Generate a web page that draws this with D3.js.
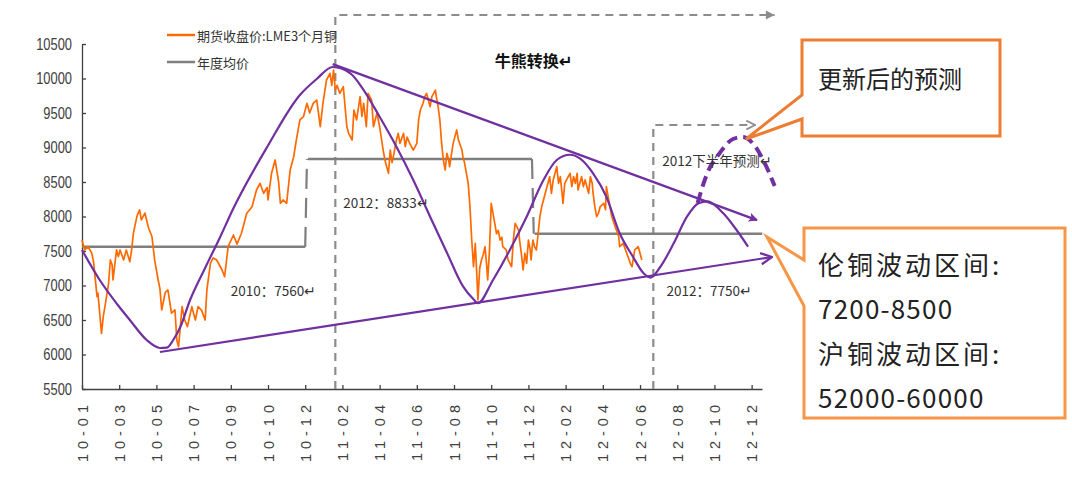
<!DOCTYPE html>
<html><head><meta charset="utf-8">
<script src="https://cdn.jsdelivr.net/npm/d3@7"></script>
<style>
body{margin:0;background:#fff;}
svg{display:block;}
</style></head><body>
<svg id="c" width="1072" height="496"></svg>
<script>
// ---------- data ----------
const tickLabels = ["10-01","10-03","10-05","10-07","10-09","10-10","10-12","11-02","11-04","11-06","11-08","11-10","11-12","12-02","12-04","12-06","12-08","12-10","12-12"];
const yTicks = [5500,6000,6500,7000,7500,8000,8500,9000,9500,10000,10500];
const seriesNames = ["期货收盘价:LME3个月铜","年度均价"];
// LME 3-month copper close: [trading-day index, price]
const priceSeries = [[0,7659],[3,7515],[7,7562],[11,7470],[13,7345],[17,6838],[18,6890],[20,6600],[22,6307],[24,6548],[26,6700],[30,7032],[32,7370],[34,7300],[35,7080],[37,7300],[39,7515],[41,7420],[43,7515],[47,7370],[50,7515],[54,7345],[56,7515],[58,7757],[62,8001],[65,8097],[67,7950],[71,8050],[75,7840],[79,7707],[82,7370],[86,7080],[88,6950],[90,6645],[94,6900],[97,6935],[101,6600],[105,6645],[107,6210],[109,6113],[113,6693],[116,6500],[119,6403],[124,6693],[128,6500],[131,6693],[135,6640],[139,6500],[141,6935],[145,7322],[148,7400],[152,7370],[158,7228],[161,7128],[165,7562],[171,7732],[175,7600],[180,7757],[186,8046],[192,8142],[197,8384],[201,8481],[205,8336],[209,8420],[210,8240],[214,8626],[218,8819],[222,8500],[224,8191],[227,8240],[231,8191],[235,8674],[239,8867],[242,9109],[246,9399],[250,9446],[254,9640],[257,9500],[261,9640],[265,9688],[269,9301],[272,9640],[276,9978],[280,10075],[282,9900],[284,10123],[286,9833],[288,9900],[291,9785],[295,9882],[299,9301],[301,9206],[305,9109],[307,9543],[310,9400],[314,9736],[316,9450],[318,9640],[321,9301],[323,9785],[327,9688],[329,9301],[333,9500],[336,9301],[340,8963],[342,8819],[344,8722],[346,8626],[348,8963],[350,8780],[352,8900],[355,9109],[357,9206],[359,9060],[363,9206],[365,9012],[367,9150],[370,9060],[374,8963],[378,9060],[380,9399],[382,9543],[385,9640],[387,9736],[389,9785],[393,9591],[395,9736],[399,9833],[400,9736],[402,9591],[404,9399],[406,9060],[408,8819],[410,8674],[412,8915],[414,8820],[415,8722],[419,9060],[423,9254],[425,9109],[429,8963],[430,8870],[432,8771],[434,8626],[436,8481],[438,8142],[440,7659],[442,7272],[444,7611],[446,7080],[447,6790],[449,7250],[451,7370],[453,7450],[455,7562],[457,7272],[458,7080],[460,7500],[462,8191],[464,8046],[466,7901],[468,7750],[470,7800],[472,7659],[474,7700],[475,7562],[479,7515],[481,7370],[485,7272],[487,7659],[489,7901],[493,7800],[494,7659],[496,7467],[498,7225],[500,7467],[502,7322],[504,7659],[506,7515],[507,7370],[509,7659],[511,7560],[513,7515],[515,7757],[517,8001],[519,8142],[523,8336],[526,8481],[528,8577],[530,8336],[532,8530],[534,8626],[536,8722],[538,8481],[540,8577],[542,8336],[543,8191],[545,8481],[547,8530],[551,8626],[553,8432],[555,8577],[557,8481],[559,8626],[560,8384],[564,8577],[566,8432],[568,8530],[572,8336],[574,8577],[576,8481],[577,8336],[579,8142],[581,7998],[583,8046],[585,8142],[589,8191],[591,8100],[592,8432],[594,8287],[598,8001],[602,7852],[606,7707],[607,7562],[611,7611],[615,7467],[619,7322],[621,7272],[624,7515],[628,7562],[630,7467],[632,7370]];
// yearly averages
const avgValues = [7560, 8833, 7750];
const avgStartDay = [0, 255, 511];
const avgEndDay = [252, 508, 768];
// hand-drawn wave (purple)
const waveSeries = [[0,7515],[20,7080],[40,6725],[54,6500],[73,6210],[88,6094],[96,6100],[103,6210],[111,6399],[122,6790],[139,7254],[156,7703],[170,8094],[209,9007],[246,9761],[265,9993],[283,10167],[303,10075],[318,9833],[336,9446],[355,9012],[374,8529],[393,7997],[412,7475],[430,6990],[442,6800],[447,6745],[464,7080],[483,7515],[502,7997],[521,8529],[536,8819],[551,8895],[562,8843],[577,8626],[592,8287],[607,7757],[622,7417],[634,7177],[642,7115],[653,7272],[668,7611],[683,7997],[696,8191],[706,8220],[724,8046],[739,7804],[752,7562]];
const forecastArc = [[695,8196],[706,8630],[720,8920],[735,9123],[746,9152],[757,9065],[769,8819],[782,8442]];
const upperTrend = [[283,10210],[762,7949]];
const lowerTrend = [[88,6036],[779,7413]];
const regimeGuide = [[286,5500],[286,10920],[782,10920]];
const forecastGuide = [[645,5500],[645,9326],[760,9326]];
const noteTexts = ["2010：7560↵","2012：8833↵","2012：7750↵","2012下半年预测↵"];
const notePos = [[168,6935],[295,8210],[660,6935],[655,8819]];
const titleText = "牛熊转换↵";
const titlePos = [466,10268];
const callout1 = ["更新后的预测"];
const callout2 = ["伦铜波动区间:","7200-8500","沪铜波动区间:","52000-60000"];

// ---------- layout ----------
const svg = d3.select("#c");
const DAYS_PER_TICK = 42;
const x = d3.scaleLinear().domain([0, 767.7]).range([82, 762]);
const y = d3.scaleLinear().domain([5500, 10500]).range([389, 44]);
const purple = "#7030a0", orange = "#ff6a00", gray = "#7f7f7f";
const ln = d3.line().x(d => x(d[0])).y(d => y(d[1]));
const smooth = d3.line().x(d => x(d[0])).y(d => y(d[1])).curve(d3.curveMonotoneX);

// defs markers
const defs = svg.append("defs");
defs.append("marker").attr("id","arrP").attr("viewBox","0 0 10 10").attr("refX",9).attr("refY",5)
  .attr("markerWidth",9).attr("markerHeight",9).attr("markerUnits","userSpaceOnUse").attr("orient","auto")
  .append("path").attr("d","M1,1 L9,5 L1,9 L3,5 Z").attr("fill",purple).attr("stroke",purple).attr("stroke-width",1);
defs.append("marker").attr("id","arrP2").attr("viewBox","0 0 10 10").attr("refX",9).attr("refY",5)
  .attr("markerWidth",14).attr("markerHeight",14).attr("markerUnits","userSpaceOnUse").attr("orient","auto")
  .append("path").attr("d","M1,1 L9,5 L1,9").attr("fill","none").attr("stroke",purple).attr("stroke-width",1.6);
defs.append("marker").attr("id","arrG").attr("viewBox","0 0 10 10").attr("refX",9).attr("refY",5)
  .attr("markerWidth",11).attr("markerHeight",11).attr("markerUnits","userSpaceOnUse").attr("orient","auto")
  .append("path").attr("d","M1,1 L9,5 L1,9 Z").attr("fill","#8c8c8c");
defs.append("marker").attr("id","arrG2").attr("viewBox","0 0 10 10").attr("refX",9).attr("refY",5)
  .attr("markerWidth",11).attr("markerHeight",11).attr("markerUnits","userSpaceOnUse").attr("orient","auto")
  .append("path").attr("d","M1,1 L9,5 L1,9").attr("fill","none").attr("stroke","#8c8c8c").attr("stroke-width",1.6);

// axes
const yAxis = d3.axisLeft(y).tickValues(yTicks).tickSizeInner(-4).tickSizeOuter(0).tickFormat("");
const gy = svg.append("g").attr("transform","translate(82,0)").call(yAxis);
gy.selectAll("path,line").attr("stroke","#404040").attr("stroke-width",1.3);
svg.append("g").selectAll("text").data(yTicks).join("text")
  .attr("transform", d => `translate(72,${y(d)}) scale(0.86,1.08)`)
  .attr("text-anchor","end").attr("dominant-baseline","central")
  .attr("font-family","Liberation Sans, Arial, sans-serif").attr("font-size",15).attr("fill","#404040")
  .text(d => d);

const xAxis = d3.axisBottom(x).tickValues(tickLabels.map((d,i)=>i*DAYS_PER_TICK)).tickSizeInner(-4).tickSizeOuter(0)
  .tickFormat((d,i)=>tickLabels[i]);
const gx = svg.append("g").attr("transform","translate(0,389)").call(xAxis);
gx.selectAll("path,line").attr("stroke","#404040").attr("stroke-width",1.3);
gx.selectAll("text")
  .attr("transform","rotate(-90)").attr("text-anchor","end")
  .attr("x",-11).attr("y",0).attr("dy","0.35em")
  .attr("font-family","Liberation Sans, Arial, sans-serif").attr("font-size",14.5).attr("letter-spacing","5px").attr("fill","#404040");

// grey dashed guides
svg.append("path").attr("d", ln(regimeGuide)).attr("fill","none").attr("stroke","#8c8c8c")
  .attr("stroke-width",2.2).attr("stroke-dasharray","8,6").attr("marker-end","url(#arrG)");
svg.append("path").attr("d", ln(forecastGuide)).attr("fill","none").attr("stroke","#8c8c8c")
  .attr("stroke-width",2.2).attr("stroke-dasharray","8,6").attr("marker-end","url(#arrG2)");

// yearly average step
avgValues.forEach((v,i) => {
  svg.append("path").attr("d", ln([[avgStartDay[i], v],[avgEndDay[i], v]]))
    .attr("fill","none").attr("stroke",gray).attr("stroke-width",2.5);
  if (i > 0) {
    svg.append("path").attr("d", ln([[avgEndDay[i-1], avgValues[i-1]],[avgStartDay[i]-1, v]]))
      .attr("fill","none").attr("stroke",gray).attr("stroke-width",2.2).attr("stroke-dasharray","20,9");
  }
});

// price line
svg.append("path").datum(priceSeries).attr("d", ln).attr("fill","none")
  .attr("stroke",orange).attr("stroke-width",1.7).attr("stroke-linejoin","round");

// purple wave & trends
svg.append("path").datum(waveSeries).attr("d", smooth)
  .attr("fill","none").attr("stroke",purple).attr("stroke-width",2.2);
svg.append("path").attr("d", ln(upperTrend)).attr("fill","none").attr("stroke",purple).attr("stroke-width",2.4).attr("marker-end","url(#arrP)");
svg.append("path").attr("d", ln(lowerTrend)).attr("fill","none").attr("stroke",purple).attr("stroke-width",2.2).attr("marker-end","url(#arrP2)");
svg.append("path").datum(forecastArc).attr("d", smooth)
  .attr("fill","none").attr("stroke",purple).attr("stroke-width",4).attr("stroke-dasharray","11,6");

// notes
const cjk = "Noto Sans CJK SC, sans-serif";
svg.append("g").selectAll("text").data(noteTexts).join("text")
  .attr("x",(d,i)=>x(notePos[i][0])).attr("y",(d,i)=>y(notePos[i][1]))
  .attr("dominant-baseline","central").attr("font-family",cjk).attr("font-size",13.5).attr("fill","#333")
  .text(d=>d);
svg.append("text").attr("x",x(titlePos[0])).attr("y",y(titlePos[1])).attr("dominant-baseline","central")
  .attr("font-family",cjk).attr("font-size",16).attr("font-weight","bold").attr("fill","#111").text(titleText);

// legend
const lg = svg.append("g");
[orange, gray].forEach((c,i) => {
  lg.append("line").attr("x1",167).attr("x2",195).attr("y1",35+i*27).attr("y2",35+i*27).attr("stroke",c).attr("stroke-width",2.5);
  lg.append("text").attr("x",197).attr("y",35+i*27).attr("dominant-baseline","central")
    .attr("font-family",cjk).attr("font-size",13).attr("fill","#333").text(seriesNames[i]);
});

// callouts
function callout(L,T,R,B,b1,b2,tx,ty,stroke){
  const p = `M${L},${T} L${R},${T} L${R},${B} L${L},${B} L${L},${b2} L${tx},${ty} L${L},${b1} Z`;
  svg.append("path").attr("d",p).attr("fill","#fff").attr("stroke",stroke).attr("stroke-width",3).attr("stroke-linejoin","miter");
}
callout(802,40,1000,136,95,119,746,139,"#ed7d31");
callout(804,228,1065,418,260,306,767,237,"#f79646");
svg.append("text").attr("x",818).attr("y",77).attr("dominant-baseline","central")
  .attr("font-family",cjk).attr("font-size",24).attr("fill","#222").text(callout1[0]);
svg.append("g").selectAll("text").data(callout2).join("text")
  .attr("x",818).attr("y",(d,i)=>263+i*44.5).attr("dominant-baseline","central")
  .attr("font-family",cjk).attr("font-size",26).attr("letter-spacing",(d,i)=> i%2===0 ? "3px" : "1.2px").attr("fill","#222").text(d=>d);
</script>
</body></html>
